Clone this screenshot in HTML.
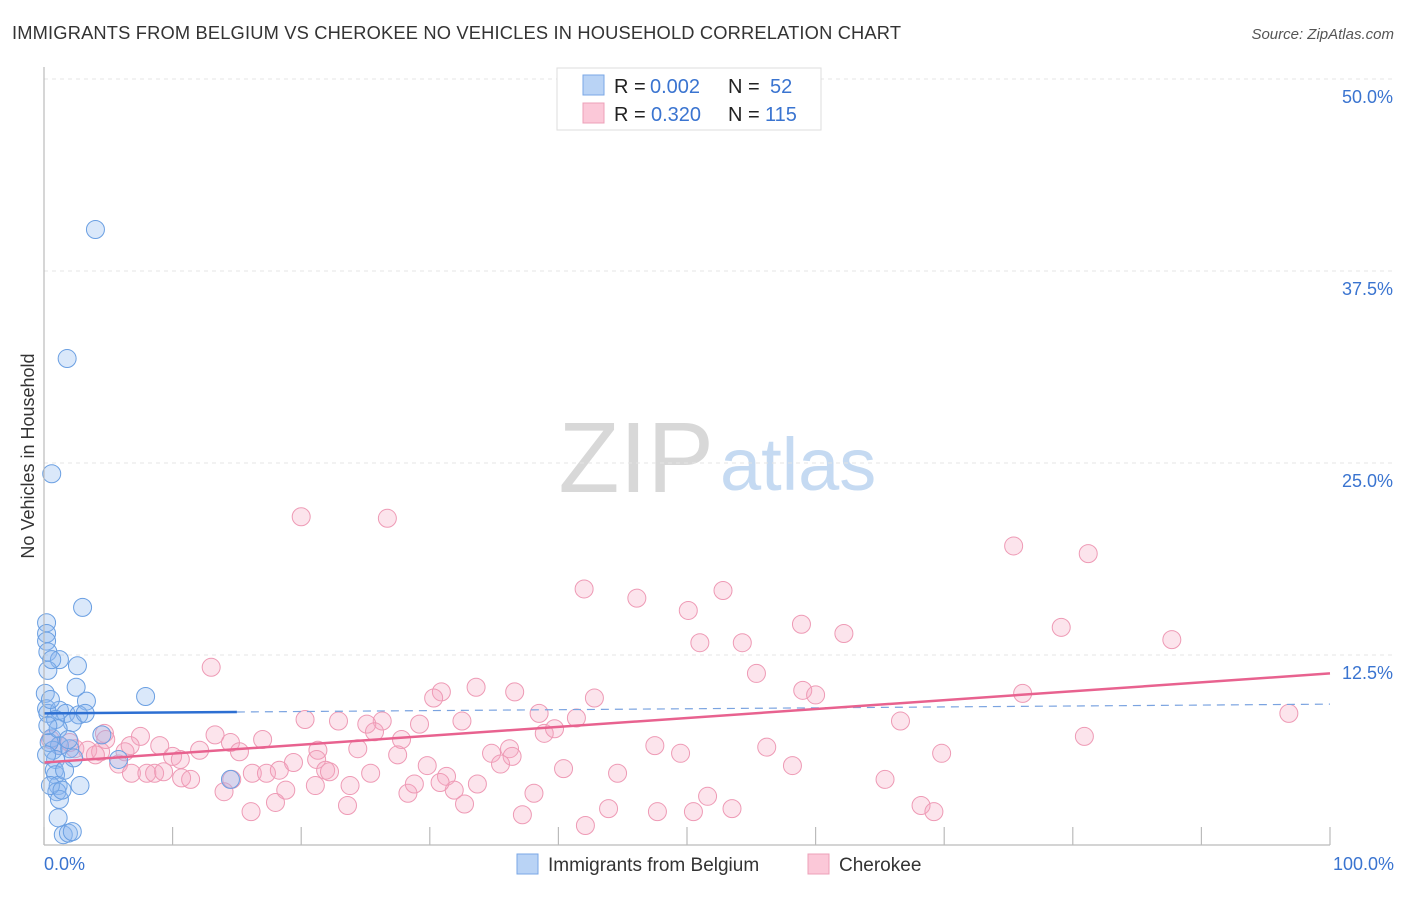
<!DOCTYPE html>
<html><head><meta charset="utf-8"><style>
body{margin:0;background:#fff;font-family:"Liberation Sans",sans-serif;}
svg text{font-family:"Liberation Sans",sans-serif;}
</style></head><body>
<svg id="chart" width="1406" height="892" viewBox="0 0 1406 892">
<text x="12" y="39" font-size="18.3" fill="#333" textLength="889">IMMIGRANTS FROM BELGIUM VS CHEROKEE NO VEHICLES IN HOUSEHOLD CORRELATION CHART</text>
<text x="1394" y="39" font-size="15" fill="#555" font-style="italic" text-anchor="end">Source: ZipAtlas.com</text>
<text x="714" y="492" font-size="100" fill="#d8d8d8" text-anchor="end" font-family="Liberation Serif,serif">ZIP</text>
<text x="720" y="490" font-size="74" fill="#c5daf2">atlas</text>
<text transform="translate(34,456) rotate(-90)" font-size="18" fill="#333" text-anchor="middle">No Vehicles in Household</text>
<g id="grid"></g><g id="ticks"></g><g id="pts"></g><g id="lines"></g>
<line x1="44" y1="67" x2="44" y2="845" stroke="#bbb" stroke-width="1.2"/>
<line x1="44" y1="845" x2="1330" y2="845" stroke="#bbb" stroke-width="1.2"/>
<text x="44" y="870" font-size="18" fill="#3a74d0">0.0%</text>
<text x="1394" y="870" font-size="18" fill="#3a74d0" text-anchor="end">100.0%</text>
<g>
<rect x="557" y="68" width="264" height="62" fill="#fff" stroke="#ddd"/>
<rect x="583" y="75" width="21" height="20" fill="#b9d3f5" stroke="#7aa7e6"/>
<rect x="583" y="103" width="21" height="20" fill="#fbc8d8" stroke="#eda0b8"/>
<text x="614" y="93" font-size="20" fill="#222">R = <tspan x="650" fill="#3a74d0">0.002</tspan><tspan x="728">N = </tspan><tspan x="770" fill="#3a74d0">52</tspan></text>
<text x="614" y="121" font-size="20" fill="#222">R = <tspan x="651" fill="#3a74d0">0.320</tspan><tspan x="728">N = </tspan><tspan x="765" fill="#3a74d0">115</tspan></text>
</g>
<g>
<rect x="517" y="854" width="21" height="20" fill="#b9d3f5" stroke="#7aa7e6"/>
<text x="548" y="871" font-size="19" fill="#333">Immigrants from Belgium</text>
<rect x="808" y="854" width="21" height="20" fill="#fbc8d8" stroke="#eda0b8"/>
<text x="839" y="871" font-size="19" fill="#333">Cherokee</text>
</g>
</svg>
<script>
const yTicks=[12.5,25,37.5,50];
const yTickLabels=["12.5%","25.0%","37.5%","50.0%"];
const xTicks=[0,10,20,30,40,50,60,70,80,90,100];
const blueX=[4.0,1.8,0.6,3.0,0.2,0.2,0.2,0.3,1.2,2.6,0.3,2.5,0.1,3.3,7.9,0.2,0.3,1.2,1.7,2.7,2.2,0.9,0.6,1.2,0.7,0.4,2.0,4.5,2.3,5.8,0.9,0.8,0.9,1.1,1.0,1.2,2.8,0.5,14.5,1.1,1.5,1.9,2.2,0.5,0.2,1.6,1.4,3.2,0.6,1.1,0.3,1.9];
const blueY=[40.2,31.8,24.3,15.6,14.6,13.9,13.4,12.7,12.2,11.8,11.5,10.4,10.0,9.5,9.8,9.0,8.7,8.9,8.7,8.6,8.1,8.3,7.1,6.6,6.3,6.8,6.4,7.3,5.8,5.7,5.7,5.0,4.7,4.0,3.6,3.1,4.0,4.0,4.4,1.9,0.8,0.9,1.0,9.6,6.0,5.0,3.7,8.7,12.2,7.7,7.9,7.0];
const pinkX=[20.0,26.7,75.4,81.2,42.0,46.1,52.8,50.1,51.0,54.3,58.9,62.2,79.1,87.7,13.0,55.4,33.6,30.9,30.3,36.6,42.8,59.0,60.0,76.1,96.8,20.3,22.9,26.3,29.2,32.5,38.5,41.4,25.1,66.6,25.7,38.9,39.7,4.7,7.5,13.3,14.5,17.0,27.8,80.9,47.5,56.2,69.8,49.5,0.5,1.2,2.4,3.4,4.4,6.3,10.0,12.1,15.2,21.3,24.4,34.8,36.2,36.4,27.5,21.2,10.6,5.8,6.8,8.0,8.6,9.3,10.7,11.4,16.2,17.3,18.3,19.4,21.9,22.2,25.4,29.8,31.3,35.5,40.4,44.6,58.2,14.0,18.8,21.1,23.8,28.3,28.8,31.9,33.7,38.1,65.4,16.1,18.0,23.6,32.7,37.2,43.9,47.7,42.1,50.5,51.6,53.5,68.2,69.2,4.8,4.0,9.0,30.8,6.7,14.6,2.0];
const pinkY=[21.5,21.4,19.6,19.1,16.8,16.2,16.7,15.4,13.3,13.3,14.5,13.9,14.3,13.5,11.7,11.3,10.4,10.1,9.7,10.1,9.7,10.2,9.9,10.0,8.7,8.3,8.2,8.2,8.0,8.2,8.7,8.4,8.0,8.2,7.5,7.4,7.7,7.4,7.2,7.3,6.8,7.0,7.0,7.2,6.6,6.5,6.1,6.1,7.0,6.6,6.4,6.3,6.2,6.2,5.9,6.3,6.2,6.3,6.4,6.1,6.4,5.9,6.0,5.7,5.7,5.4,4.8,4.8,4.8,4.9,4.5,4.4,4.8,4.8,5.0,5.5,5.0,4.9,4.8,5.3,4.6,5.4,5.1,4.8,5.3,3.6,3.7,4.0,4.0,3.5,4.1,3.7,4.1,3.5,4.4,2.3,2.9,2.7,2.8,2.1,2.5,2.3,1.4,2.3,3.3,2.5,2.7,2.3,7.0,6.0,6.6,4.2,6.6,4.4,6.8];
const blueTrend=[8.7,9.3];
const pinkTrend=[5.5,11.3];
const NS="http://www.w3.org/2000/svg";
const X=v=>44+v*12.86, Y=v=>847-v*15.36;
function mk(t,a,p){const e=document.createElementNS(NS,t);for(const k in a)e.setAttribute(k,a[k]);document.getElementById(p).appendChild(e);return e;}
yTicks.forEach((t,i)=>{
 const g=mk('line',{x1:44,x2:1394,y1:Y(t),y2:Y(t),stroke:'#e4e4e4','stroke-dasharray':'4,4'},'grid');
 
 
 const l=mk('text',{x:1393,y:Y(t)+24,'font-size':18,fill:'#3a74d0','text-anchor':'end'},'grid');l.textContent=yTickLabels[i];
 
 
});
xTicks.forEach(t=>{
 const e=mk('line',{x1:X(t),x2:X(t),y1:827,y2:845,stroke:'#bbb','stroke-width':1.2},'ticks');
 
 
});
pinkX.forEach((v,i)=>{
 const c=mk('circle',{cx:X(v),cy:Y(pinkY[i]),r:9,fill:'rgba(244,165,192,0.3)',stroke:'#ee9ab5','stroke-width':1},'pts');
 
 
});
blueX.forEach((v,i)=>{
 const c=mk('circle',{cx:X(v),cy:Y(blueY[i]),r:9,fill:'rgba(140,185,240,0.32)',stroke:'#6a9fe2','stroke-width':1},'pts');
 
 
});
const bs=blueTrend[0]+(blueTrend[1]-blueTrend[0])*0.15;
let e=mk('line',{x1:X(0),y1:Y(blueTrend[0]),x2:X(15),y2:Y(bs),stroke:'#2d6fd2','stroke-width':2.5},'lines');


e=mk('line',{x1:X(15),y1:Y(bs),x2:X(100),y2:Y(blueTrend[1]),stroke:'#7aa3e0','stroke-width':1.2,'stroke-dasharray':'8,6'},'lines');


e=mk('line',{x1:X(0),y1:Y(pinkTrend[0]),x2:X(100),y2:Y(pinkTrend[1]),stroke:'#e8628f','stroke-width':2.5},'lines');


</script>
</body></html>
